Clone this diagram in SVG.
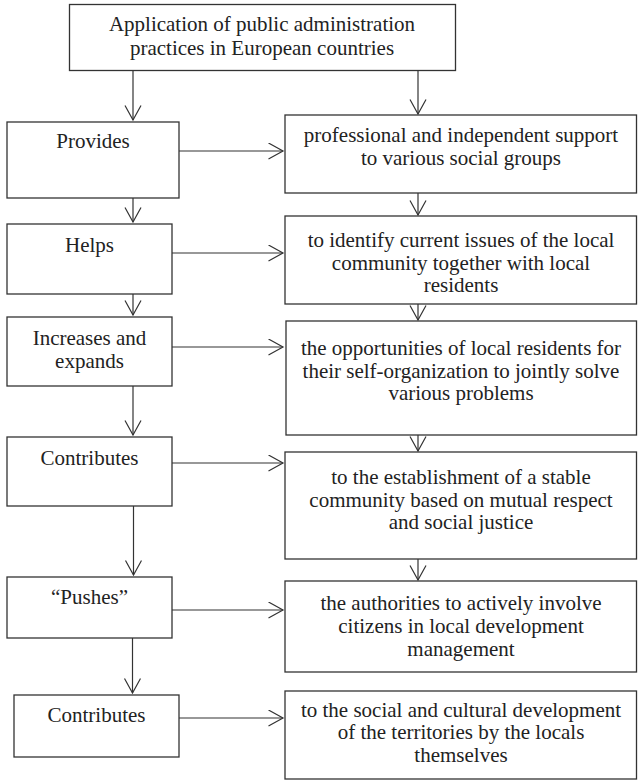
<svg xmlns="http://www.w3.org/2000/svg" width="638" height="782" viewBox="0 0 638 782">
<style>
.box{fill:#fff;stroke:#333;stroke-width:1.3}
.t{font-family:'Liberation Serif',serif;font-size:21px;fill:#222;text-anchor:middle}
.c{fill:none;stroke:#333;stroke-width:1.2}
</style>
<defs>
<marker id="ah" markerUnits="userSpaceOnUse" markerWidth="17" markerHeight="18" refX="15" refY="8.5" orient="auto" viewBox="0 0 17 18">
<path d="M0.5,0.5 L15,8.5 L0.5,16.5" fill="none" stroke="#333" stroke-width="1.2"/>
</marker>
</defs>
<rect width="638" height="782" fill="#fff"/>
<g id="connectors">
<path class="c" marker-end="url(#ah)" d="M133,71 V120"/>
<path class="c" marker-end="url(#ah)" d="M133,198 V222"/>
<path class="c" marker-end="url(#ah)" d="M133,294 V315"/>
<path class="c" marker-end="url(#ah)" d="M133,386 V435"/>
<path class="c" marker-end="url(#ah)" d="M133.5,506 V575"/>
<path class="c" marker-end="url(#ah)" d="M132.5,638 V693"/>
<path class="c" marker-end="url(#ah)" d="M418,71 V114"/>
<path class="c" marker-end="url(#ah)" d="M418,193 V215"/>
<path class="c" marker-end="url(#ah)" d="M418,304 V320"/>
<path class="c" marker-end="url(#ah)" d="M418,435 V451"/>
<path class="c" marker-end="url(#ah)" d="M418,559 V580"/>
<path class="c" marker-end="url(#ah)" d="M179,151 H283"/>
<path class="c" marker-end="url(#ah)" d="M172,253 H283"/>
<path class="c" marker-end="url(#ah)" d="M172,347 H283"/>
<path class="c" marker-end="url(#ah)" d="M172,463 H283"/>
<path class="c" marker-end="url(#ah)" d="M172,610 H283"/>
<path class="c" marker-end="url(#ah)" d="M179,718 H283"/>
</g>
<g id="n-top">
<rect class="box" x="69.5" y="4.5" width="386" height="66"/>
<text class="t" x="262" y="31" style="font-family:'Liberation Serif',serif">Application of public administration</text>
<text class="t" x="262" y="55" style="font-family:'Liberation Serif',serif">practices in European countries</text>
</g>
<g id="n-provides">
<rect class="box" x="7" y="122" width="172" height="76"/>
<text class="t" x="93" y="148" style="font-family:'Liberation Serif',serif">Provides</text>
</g>
<g id="n-helps">
<rect class="box" x="7" y="224" width="165" height="70"/>
<text class="t" x="89.5" y="252" style="font-family:'Liberation Serif',serif">Helps</text>
</g>
<g id="n-increases">
<rect class="box" x="7" y="317" width="165" height="69"/>
<text class="t" x="89.5" y="345" style="font-family:'Liberation Serif',serif">Increases and</text>
<text class="t" x="89.5" y="368" style="font-family:'Liberation Serif',serif">expands</text>
</g>
<g id="n-contributes1">
<rect class="box" x="7" y="437" width="165" height="69"/>
<text class="t" x="89.5" y="465" style="font-family:'Liberation Serif',serif">Contributes</text>
</g>
<g id="n-pushes">
<rect class="box" x="7" y="577" width="165" height="61"/>
<text class="t" x="89.5" y="604" style="font-family:'Liberation Serif',serif">“Pushes”</text>
</g>
<g id="n-contributes2">
<rect class="box" x="14" y="695" width="165" height="62"/>
<text class="t" x="96.5" y="722" style="font-family:'Liberation Serif',serif">Contributes</text>
</g>
<g id="n-r1">
<rect class="box" x="285" y="115" width="351.5" height="78"/>
<text class="t" x="461" y="141.5" style="font-family:'Liberation Serif',serif">professional and independent support</text>
<text class="t" x="461" y="164.5" style="font-family:'Liberation Serif',serif">to various social groups</text>
</g>
<g id="n-r2">
<rect class="box" x="285" y="216" width="351.5" height="88"/>
<text class="t" x="461" y="247" style="font-family:'Liberation Serif',serif">to identify current issues of the local</text>
<text class="t" x="461" y="270" style="font-family:'Liberation Serif',serif">community together with local</text>
<text class="t" x="461" y="292" style="font-family:'Liberation Serif',serif">residents</text>
</g>
<g id="n-r3">
<rect class="box" x="286" y="321" width="350.5" height="114"/>
<text class="t" x="461" y="355" style="font-family:'Liberation Serif',serif">the opportunities of local residents for</text>
<text class="t" x="461" y="378" style="font-family:'Liberation Serif',serif">their self-organization to jointly solve</text>
<text class="t" x="461" y="400" style="font-family:'Liberation Serif',serif">various problems</text>
</g>
<g id="n-r4">
<rect class="box" x="285" y="452" width="351.5" height="107"/>
<text class="t" x="461" y="484" style="font-family:'Liberation Serif',serif">to the establishment of a stable</text>
<text class="t" x="461" y="507" style="font-family:'Liberation Serif',serif">community based on mutual respect</text>
<text class="t" x="461" y="529" style="font-family:'Liberation Serif',serif">and social justice</text>
</g>
<g id="n-r5">
<rect class="box" x="285" y="581" width="351.5" height="91"/>
<text class="t" x="461" y="610" style="font-family:'Liberation Serif',serif">the authorities to actively involve</text>
<text class="t" x="461" y="633" style="font-family:'Liberation Serif',serif">citizens in local development</text>
<text class="t" x="461" y="656" style="font-family:'Liberation Serif',serif">management</text>
</g>
<g id="n-r6">
<rect class="box" x="285" y="691" width="351.5" height="88"/>
<text class="t" x="461" y="717" style="font-family:'Liberation Serif',serif">to the social and cultural development</text>
<text class="t" x="461" y="739" style="font-family:'Liberation Serif',serif">of the territories by the locals</text>
<text class="t" x="461" y="762" style="font-family:'Liberation Serif',serif">themselves</text>
</g>
</svg>
